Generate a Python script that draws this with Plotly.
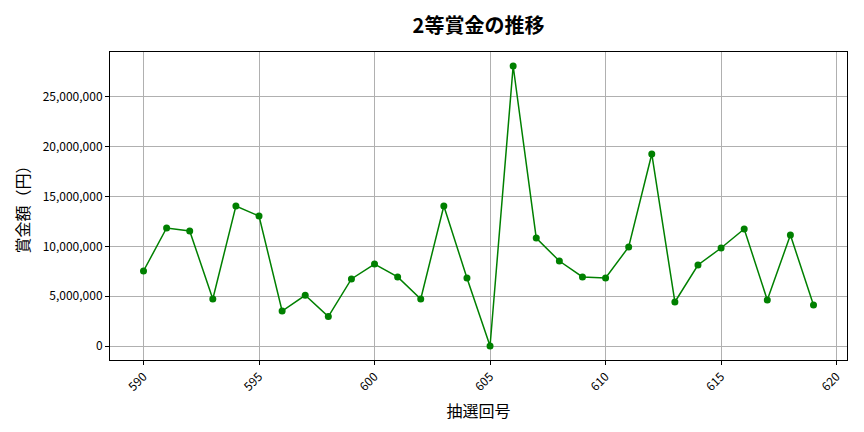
import plotly.graph_objects as go

# 抽選回号
draws = list(range(590, 620))
# 2等賞金（円）
prizes = [
    7530000, 11850000, 11550000, 4720000, 14060000, 13050000, 3510000, 5090000,
    2950000, 6730000, 8230000, 6930000, 4720000, 14060000, 6830000, 0,
    28110000, 10840000, 8530000, 6930000, 6830000, 9940000, 19280000, 4420000,
    8130000, 9840000, 11750000, 4620000, 11140000, 4120000,
]
x_ticks = [590, 595, 600, 605, 610, 615, 620]
y_ticks = [0, 5000000, 10000000, 15000000, 20000000, 25000000]

FONT = "Noto Sans CJK JP"

fig = go.Figure()
fig.add_trace(go.Scatter(
    x=draws, y=prizes, mode='lines+markers',
    line=dict(color='green', width=1.5),
    marker=dict(color='green', size=7),
    showlegend=False,
))

# y axis title as a rotated annotation, centred on the plot area
fig.add_annotation(
    text='賞金額（円）', textangle=-90, showarrow=False,
    xref='paper', yref='paper', x=-0.12, y=0.5,
    xanchor='center', yanchor='middle',
    font=dict(family=FONT, size=16, color='black'),
)

# the page body adds an 8px offset, so margins are shifted to compensate
fig.update_layout(
    width=864, height=432,
    template='none',
    paper_bgcolor='white', plot_bgcolor='white',
    font=dict(family=FONT, color='black', size=12),
    title=dict(text='<b>2等賞金の推移</b>', xref='paper', x=0.5, xanchor='center', y=0.975,
               font=dict(family=FONT, size=20, color='black')),
    margin=dict(l=102, r=25, t=44, b=80),
    xaxis=dict(
        range=[588.55, 620.45], tickvals=x_ticks, tickangle=-45,
        tickfont=dict(size=12, color='black'), automargin=False,
        showgrid=True, gridcolor='#b0b0b0', gridwidth=0.8,
        showline=True, linecolor='black', linewidth=1, mirror=True,
        ticks='outside', ticklen=4, tickcolor='black', zeroline=False,
        title=dict(text='抽選回号', font=dict(size=16, color='black'), standoff=12),
    ),
    yaxis=dict(
        range=[-1405000, 29515000], tickvals=y_ticks, tickformat=',d',
        tickfont=dict(size=12, color='black'), automargin=False,
        showgrid=True, gridcolor='#b0b0b0', gridwidth=0.8,
        showline=True, linecolor='black', linewidth=1, mirror=True,
        ticks='outside', ticklen=4, tickcolor='black', zeroline=False,
    ),
)

fig.write_html("out.html")
